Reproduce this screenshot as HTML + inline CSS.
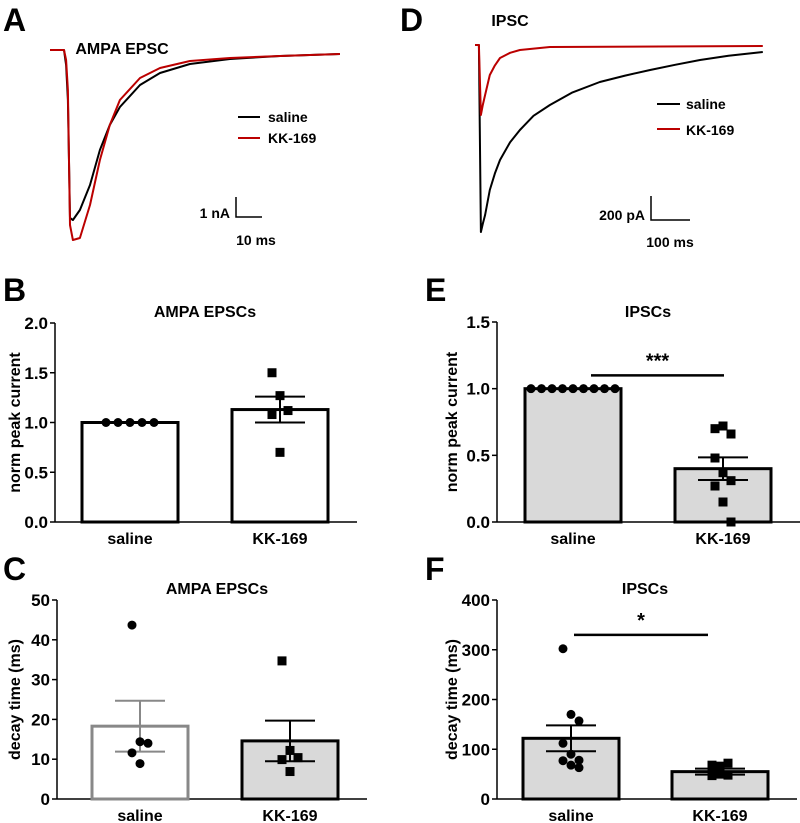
<!DOCTYPE html>
<html><head><meta charset="utf-8"><style>
html,body{margin:0;padding:0;background:#fff;}
svg{display:block;font-family:"Liberation Sans",Arial,sans-serif;font-weight:bold;}
</style></head><body>
<svg id="fig" width="800" height="823" viewBox="0 0 800 823" xmlns="http://www.w3.org/2000/svg"></svg>
<script>
// ---- Trace data (A: ms, nA ; D: ms, pA)
const aTime=[0,5.4,6.2,6.9,7.7,8.8,11.5,15.4,19.2,23,26.9,34.6,42.3,53.8,69.2,88.5,111.5];
const aSaline=[0,0,-0.75,-2.5,-8.4,-8.5,-8,-6.75,-5,-3.75,-2.85,-1.75,-1.15,-0.7,-0.45,-0.3,-0.2];
const aKK=[0,0,-0.5,-2,-8.75,-9.5,-9.4,-7.75,-5.5,-3.75,-2.5,-1.4,-0.9,-0.55,-0.4,-0.3,-0.2];
const dTimeSal=[0,10,15,20,26,38,51,64,90,115,150,192,250,320,385,449,513,577,650,738];
const dSaline=[0,0,-1558,-1490,-1417,-1208,-1070,-958,-810,-708,-590,-500,-395,-308,-255,-208,-165,-125,-90,-58];
const dTimeKK=[0,10,15,20,26,38,51,64,90,115,192,738];
const dKK=[0,0,-583,-500,-417,-250,-170,-108,-65,-42,-17,-8];
// ---- Bar data
const categories=["saline","KK-169"];
const bMeans=[1.0,1.13], bSem=[0,0.13];
const bSalinePts=[1,1,1,1,1], bKKPts=[1.5,1.27,1.12,1.08,0.70];
const bTicks=[0,0.5,1.0,1.5,2.0];
const eMeans=[1.0,0.40], eSem=[0,0.085];
const eSalinePts=[1,1,1,1,1,1,1,1,1], eKKPts=[0.70,0.72,0.66,0.48,0.37,0.31,0.27,0.15,0.0];
const eTicks=[0,0.5,1.0,1.5];
const cMeans=[18.3,14.6], cSem=[6.4,5.1];
const cSalinePts=[43.7,14.4,14.0,11.6,8.9], cKKPts=[34.7,12.2,10.4,9.9,6.9];
const cTicks=[0,10,20,30,40,50];
const fMeans=[122,55], fSem=[26,6];
const fSalinePts=[302,170,157,112,90,78,77,68,63], fKKPts=[68,66,72,55,50,48,47,60];
const fTicks=[0,100,200,300,400];

const svg=document.getElementById('fig');
const NS="http://www.w3.org/2000/svg";
function el(tag,attrs,parent){const e=document.createElementNS(NS,tag);for(const k in attrs)e.setAttribute(k,attrs[k]);(parent||svg).appendChild(e);return e;}
function txt(x,y,s,size,anchor,name,extra){const t=el('text',Object.assign({x:x,y:y,'font-size':size,'text-anchor':anchor||'middle'},extra||{}));t.textContent=s;


return t;}

// panel letters
[["A",3,31],["D",400,31],["B",3,301],["E",425,301],["C",3,580],["F",425,580]].forEach(p=>txt(p[1],p[2],p[0],32,'start','panel-label-'+p[0].toLowerCase()));

// ---- Traces
function trace(ts,vs,sx,sy,color,name){
  const pts=ts.map((t,i)=>sx(t).toFixed(1)+','+sy(vs[i]).toFixed(1)).join(' ');
  const p=el('polyline',{points:pts,fill:'none',stroke:color,'stroke-width':2,'stroke-linejoin':'round'});
  
  
}
const axA=t=>50+t*2.6, ayA=v=>50-v*20;
txt(122,54,"AMPA EPSC",16,'middle','title-a');
trace(aTime,aSaline,axA,ayA,'#000','trace-a-saline');
trace(aTime,aKK,axA,ayA,'#b00','trace-a-kk169');
el('line',{x1:238,y1:117,x2:260,y2:117,stroke:'#000','stroke-width':2});
txt(268,122,"saline",14,'start','legend-a-saline');
el('line',{x1:238,y1:138,x2:260,y2:138,stroke:'#b00','stroke-width':2});
txt(268,143,"KK-169",14,'start','legend-a-kk169');
el('polyline',{points:'236,197 236,217 262,217',fill:'none',stroke:'#000','stroke-width':1.5});
txt(230,218,"1 nA",14,'end','scale-a-current');
txt(256,245,"10 ms",14,'middle','scale-a-time');

const axD=t=>475+t*0.39, ayD=v=>45-v*0.12;
txt(510,26,"IPSC",16,'middle','title-d');
trace(dTimeSal,dSaline,axD,ayD,'#000','trace-d-saline');
trace(dTimeKK,dKK,axD,ayD,'#b00','trace-d-kk169');
el('line',{x1:657,y1:104,x2:680,y2:104,stroke:'#000','stroke-width':2});
txt(686,109,"saline",14,'start','legend-d-saline');
el('line',{x1:657,y1:129,x2:680,y2:129,stroke:'#b00','stroke-width':2});
txt(686,135,"KK-169",14,'start','legend-d-kk169');
el('polyline',{points:'651,196 651,220 690,220',fill:'none',stroke:'#000','stroke-width':1.5});
txt(645,220,"200 pA",14,'end','scale-d-current');
txt(670,247,"100 ms",14,'middle','scale-d-time');

// ---- Bar panels
function barPanel(o){
  const g=el('g',{});
  
  
  const y=v=>o.y0-(v-o.ticks[0])/(o.ticks[o.ticks.length-1]-o.ticks[0])*(o.y0-o.yTop);
  const t=txt(o.ax+o.titleOff,o.titleY,o.title,16,'middle',o.name+'-title');g.appendChild(t);
  el('line',{x1:o.ax,y1:o.yTop,x2:o.ax,y2:o.y0,stroke:'#000','stroke-width':1.5},g);
  el('line',{x1:o.ax,y1:o.y0,x2:o.axEnd,y2:o.y0,stroke:'#000','stroke-width':1.5},g);
  o.ticks.forEach(tv=>{el('line',{x1:o.ax-5,y1:y(tv),x2:o.ax,y2:y(tv),stroke:'#000','stroke-width':1.5},g);
    const lb=txt(o.ax-7,y(tv)+6,o.tickFmt(tv),17,'end',o.name+'-tick');g.appendChild(lb);});
  const yl=txt(0,0,o.ylab,16,'middle',o.name+'-y-axis-title',{transform:`translate(${o.ax-o.ylOff},${(o.y0+o.yTop)/2}) rotate(-90)`});g.appendChild(yl);
  categories.forEach((c,i)=>{
    const bx=o.barX[i], bw=96, top=y(o.means[i]);
    const r=el('rect',{x:bx,y:top,width:bw,height:o.y0-top,fill:o.fills[i],stroke:o.strokes[i],'stroke-width':3},g);
    
    
    const cx=bx+bw/2;
    const lb=txt(cx,o.y0+22,c,16,'middle',o.name+'-x-label');g.appendChild(lb);
    if(o.sem[i]>0){
      el('line',{x1:cx,y1:y(o.means[i]+o.sem[i]),x2:cx,y2:y(o.means[i]-o.sem[i]),stroke:o.strokes[i],'stroke-width':2},g);
      [o.sem[i],-o.sem[i]].forEach(s=>el('line',{x1:cx-25,y1:y(o.means[i]+s),x2:cx+25,y2:y(o.means[i]+s),stroke:o.strokes[i],'stroke-width':2},g));
    }
    const pts=o.pts[i];
    pts.forEach((v,j)=>{
      const off=o.spread[i]?((j-(pts.length-1)/2)*o.spread[i]):((j%3)-1)*8;
      const px=cx+off;
      let m;
      if(i===0) m=el('circle',{cx:px,cy:y(v),r:4.5,fill:'#000'},g);
      else m=el('rect',{x:px-4.5,y:y(v)-4.5,width:9,height:9,fill:'#000'},g);
      
      
    });
  });
  if(o.sig){
    el('line',{x1:o.sig.x1,y1:y(o.sig.v),x2:o.sig.x2,y2:y(o.sig.v),stroke:'#000','stroke-width':2.5},g);
    const s=txt((o.sig.x1+o.sig.x2)/2,y(o.sig.v)-8,o.sig.s,20,'middle',o.name+'-significance');g.appendChild(s);
  }
}
barPanel({name:'panel-b',title:'AMPA EPSCs',titleOff:150,titleY:317,ax:55,axEnd:357,yTop:323,y0:522,ylOff:35,ticks:bTicks,tickFmt:v=>v.toFixed(1),
  ylab:'norm peak current',barX:[82,232],means:bMeans,sem:bSem,pts:[bSalinePts,bKKPts],spread:[12,0],
  fills:['#fff','#fff'],strokes:['#000','#000']});
barPanel({name:'panel-e',title:'IPSCs',titleOff:151,titleY:317,ax:497,axEnd:800,yTop:322,y0:522,ylOff:40,ticks:eTicks,tickFmt:v=>v.toFixed(1),
  ylab:'norm peak current',barX:[525,675],means:eMeans,sem:eSem,pts:[eSalinePts,eKKPts],spread:[10.5,0],
  fills:['#d9d9d9','#d9d9d9'],strokes:['#000','#000'],sig:{x1:591,x2:724,v:1.1,s:'***'}});
barPanel({name:'panel-c',title:'AMPA EPSCs',titleOff:160,titleY:594,ax:57,axEnd:367,yTop:600,y0:799,ylOff:37,ticks:cTicks,tickFmt:v=>String(v),
  ylab:'decay time (ms)',barX:[92,242],means:cMeans,sem:cSem,pts:[cSalinePts,cKKPts],spread:[0,0],
  fills:['#fff','#d9d9d9'],strokes:['#888','#000']});
barPanel({name:'panel-f',title:'IPSCs',titleOff:148,titleY:594,ax:497,axEnd:797,yTop:600,y0:799,ylOff:40,ticks:fTicks,tickFmt:v=>String(v),
  ylab:'decay time (ms)',barX:[523,672],means:fMeans,sem:fSem,pts:[fSalinePts,fKKPts],spread:[0,0],
  fills:['#d9d9d9','#d9d9d9'],strokes:['#000','#000'],sig:{x1:574,x2:708,v:330,s:'*'}});
</script>
</body></html>
